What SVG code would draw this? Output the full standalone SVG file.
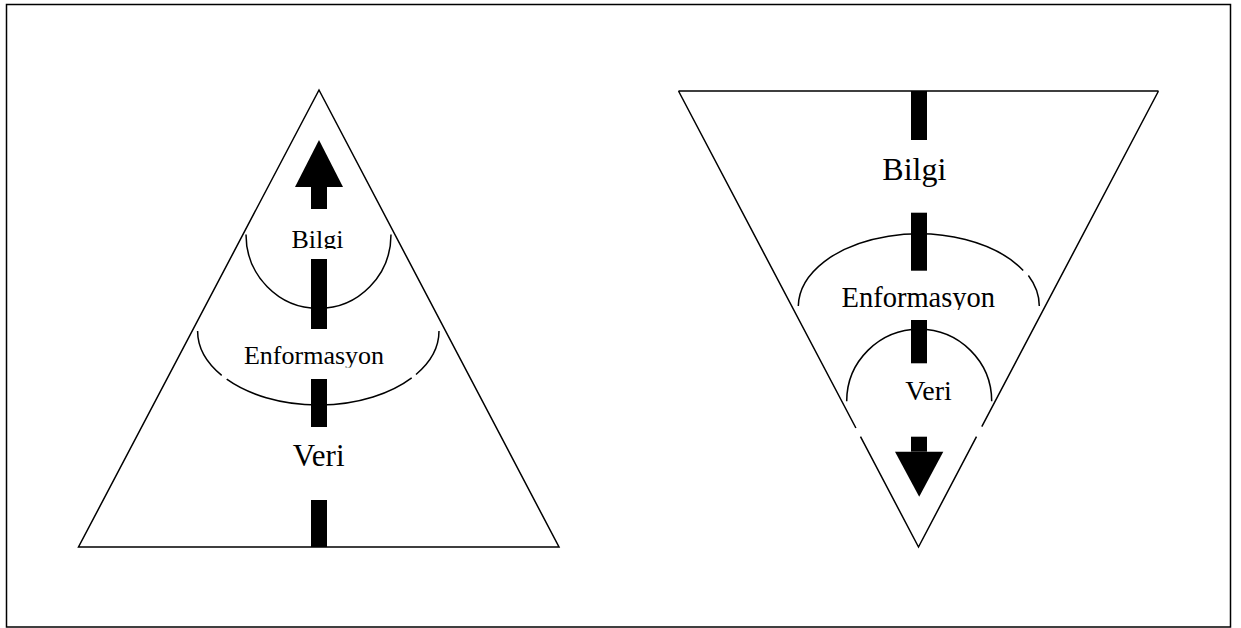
<svg xmlns="http://www.w3.org/2000/svg" width="1241" height="628" viewBox="0 0 1241 628">
<style>
.ln{fill:none;stroke:#000;stroke-width:1.5}
.bar{fill:#000;stroke:none}
.lbl{font-family:"Liberation Serif","Times New Roman",serif;fill:#000;text-anchor:middle}
</style>
<defs>
<clipPath id="cBilgiL"><rect x="200" y="200" width="240" height="49"/></clipPath>
<clipPath id="cEnfL"><rect x="200" y="320" width="240" height="47.5"/></clipPath>
<clipPath id="cEnfR"><rect x="800" y="260" width="240" height="50"/></clipPath>
</defs>
<rect x="6.5" y="4.5" width="1224" height="622.5" fill="#fff" stroke="#000" stroke-width="1.5"/>

<g id="pyramid-left">
<polygon class="ln" points="319,90 78.5,547 559,547"/>
</g>
<g id="pyramid-right">
<path class="ln" d="M678.5,91 H1158.5 M678.5,91 L855.9,428 M860.5,436.7 L918.5,547 L976.5,436.7 M981.8,426.7 L1158.5,91"/>
</g>

<g id="connectors">
<polygon class="bar" points="319,140 343,187 295,187"/>
<rect class="bar" x="311" y="187" width="16" height="22"/>
<rect class="bar" x="311" y="259" width="16" height="70"/>
<rect class="bar" x="311" y="379" width="16" height="48"/>
<rect class="bar" x="311" y="500" width="16" height="47"/>
<rect class="bar" x="911" y="91" width="16" height="49"/>
<rect class="bar" x="911" y="212.7" width="16" height="58"/>
<rect class="bar" x="911" y="320" width="16" height="43.3"/>
<rect class="bar" x="911" y="436.7" width="16" height="15"/>
<polygon class="bar" points="895,451.7 943.3,451.7 919.2,496.7"/>
</g>

<g id="node-bilgi-left">
<path class="ln" d="M246,234.5 A72.5,74 0 0 0 391,234.5"/>
<text class="lbl" x="317.5" y="247.5" font-size="26" clip-path="url(#cBilgiL)">Bilgi</text>
</g>
<g id="node-enformasyon-left">
<path class="ln" d="M197.6,331 A120.7,74 0 0 0 221.7,375.4 M226.7,379.2 A120.7,74 0 0 0 411.7,377.8 M416,374.5 A120.7,74 0 0 0 439,331"/>
<text class="lbl" x="314" y="364" font-size="26" clip-path="url(#cEnfL)">Enformasyon</text>
</g>
<g id="node-veri-left">
<text class="lbl" x="318.7" y="465.7" font-size="31">Veri</text>
</g>

<g id="node-bilgi-right">
<text class="lbl" x="914.3" y="180" font-size="32">Bilgi</text>
</g>
<g id="node-enformasyon-right">
<path class="ln" d="M798.3,306 A120.5,73.3 0 0 1 1023.2,270.5 M1028.4,275.5 A120.5,73.3 0 0 1 1039.3,306"/>
<text class="lbl" x="918.3" y="307.3" font-size="28.5" clip-path="url(#cEnfR)">Enformasyon</text>
</g>
<g id="node-veri-right">
<path class="ln" d="M846.7,401.3 A72.5,72 0 0 1 991.7,401.3"/>
<text class="lbl" x="928.5" y="400" font-size="28">Veri</text>
</g>
</svg>
